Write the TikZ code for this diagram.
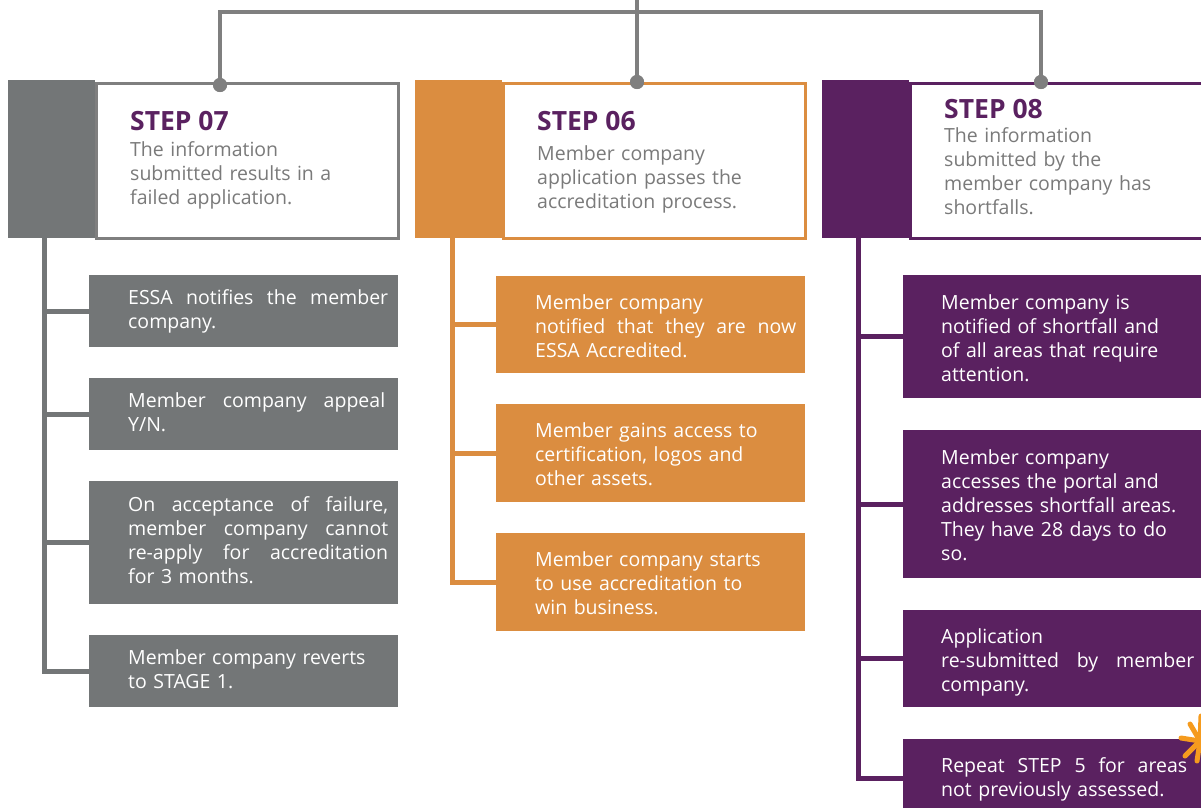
\documentclass[tikz,border=0pt]{standalone}
\usepackage{fontspec}
\setmainfont{Open Sans}
\newfontfamily\plexfam{Open Sans}
\newcommand\bodyfont{\plexfam\fontsize{19.5}{24}\selectfont}
\newcommand\ttlfont{\plexfam\bfseries\fontsize{26.5}{30}\selectfont}
\newcommand\jl[2][260pt]{\leavevmode\hbox to #1{#2}}
\definecolor{cgray}{HTML}{737677}
\definecolor{cline}{HTML}{7F7F7F}
\definecolor{corange}{HTML}{DB8D40}
\definecolor{cpurple}{HTML}{5A2160}
\definecolor{ctext}{HTML}{7A7A7A}
\definecolor{cstar}{HTML}{F59B1E}
\begin{document}
\begin{tikzpicture}[x=1pt,y=-1pt,
  bus/.style={draw=cline, line width=4pt},
  dot/.style={circle, fill=cline, inner sep=0pt, minimum size=14pt},
  hframe/.style={draw, line width=3pt, fill=white, inner sep=0pt, anchor=north west, minimum height=155pt},
  strip/.style={inner sep=0pt, anchor=north west, minimum width=87pt, minimum height=158pt},
  sbox/.style={inner sep=0pt, anchor=north west, minimum width=309pt},
  ttl/.style={font=\ttlfont, text=cpurple, anchor=base west, inner sep=0pt},
  htxt/.style={font=\bodyfont, text=ctext, anchor=base west, inner sep=0pt, text width=280pt, align=left},
  btxt/.style={font=\bodyfont, text=white, anchor=west, inner sep=0pt, text width=262pt, align=left},
  btxtlow/.style={btxt, yshift=-3.5pt},
  colline/.style={line width=5pt},
  starline/.style={draw=cstar, line width=5pt, line cap=round}]
\useasboundingbox (0,0) rectangle (1201,807);

% ---------- header boxes ----------
\node[hframe, draw=cline, minimum width=302pt] (h7) at (95,82) {};
\node[strip, fill=cgray] (s7) at (8,80) {};
\node[hframe, draw=corange, minimum width=302pt] (h6) at (502,82) {};
\node[strip, fill=corange] (s6) at (415,80) {};
\node[hframe, draw=cpurple, minimum width=330pt] (h8) at (909,82) {};
\node[strip, fill=cpurple] (s8) at (822,80) {};

\node[ttl] (t7) at (130,130.7) {STEP 07};
\node[htxt] (b7) at (130,156.7) {The information\\submitted results in a\\failed application.};
\node[ttl] (t6) at (537,130.7) {STEP 06};
\node[htxt] (b6) at (537,160.7) {Member company\\application passes the\\accreditation process.};
\node[ttl] (t8) at (944,118) {STEP 08};
\node[htxt] (b8) at (944,142.7) {The information\\submitted by the\\member company has\\shortfalls.};

% ---------- top bus ----------
\node[dot] (d7) at (220,85) {};
\node[dot] (d6) at (637,82) {};
\node[dot] (d8) at (1041,82) {};
\coordinate (bl) at (220,11.5);
\coordinate (top) at (637,-5);
\draw[bus] (d7.center) -- (bl) -| (d8.center);
\draw[bus] (top) -- (d6.center);
\node[dot] at (d7) {};
\node[dot] at (d6) {};
\node[dot] at (d8) {};

% ---------- column STEP 07 ----------
\node[sbox, fill=cgray, minimum height=72pt] (g1) at (89,275) {};
\node[sbox, fill=cgray, minimum height=72pt] (g2) at (89,378) {};
\node[sbox, fill=cgray, minimum height=123pt] (g3) at (89,481) {};
\node[sbox, fill=cgray, minimum height=72pt] (g4) at (89,635) {};
\coordinate (c7) at (44,238);
\draw[colline, draw=cgray] (c7) |- (g4.west);
\foreach \b in {g1,g2,g3} \draw[colline, draw=cgray] (c7 |- \b.west) -- (\b.west);
\node[btxt] (g1t) at ([xshift=39pt]g1.west) {\strut\jl{ESSA\hfill notifies\hfill the\hfill member}\\company.\strut};
\node[btxt] (g2t) at ([xshift=39pt]g2.west) {\strut\jl[257pt]{Member\hfill company\hfill appeal}\\Y/N.\strut};
\node[btxt] (g3t) at ([xshift=39pt]g3.west) {\strut\jl{On\hfill acceptance\hfill of\hfill failure,}\\\jl{member\hfill company\hfill cannot}\\\jl{re-apply\hfill for\hfill accreditation}\\for 3 months.\strut};
\node[btxt] (g4t) at ([xshift=39pt]g4.west) {\strut Member company reverts\\to STAGE 1.\strut};

% ---------- column STEP 06 ----------
\node[sbox, fill=corange, minimum height=97pt] (o1) at (496,276) {};
\node[sbox, fill=corange, minimum height=98pt] (o2) at (496,404) {};
\node[sbox, fill=corange, minimum height=98pt] (o3) at (496,533) {};
\coordinate (c6) at (452,238);
\draw[colline, draw=corange] (c6) |- (o3.west);
\foreach \b in {o1,o2} \draw[colline, draw=corange] (c6 |- \b.west) -- (\b.west);
\node[btxtlow] (o1t) at ([xshift=39pt]o1.west) {\strut Member company\\\jl[261pt]{notified\hfill that\hfill they\hfill are\hfill now}\\ESSA Accredited.\strut};
\node[btxtlow] (o2t) at ([xshift=39pt]o2.west) {\strut Member gains access to\\certification, logos and\\other assets.\strut};
\node[btxtlow] (o3t) at ([xshift=39pt]o3.west) {\strut Member company starts\\to use accreditation to\\win business.\strut};

% ---------- column STEP 08 ----------
\node[sbox, fill=cpurple, minimum height=123pt] (p1) at (903,275) {};
\node[sbox, fill=cpurple, minimum height=148pt] (p2) at (903,430) {};
\node[sbox, fill=cpurple, minimum height=97pt] (p3) at (903,610) {};
\node[sbox, fill=cpurple, minimum height=78pt] (p4) at (903,739) {};
\coordinate (c8) at (858,238);
\draw[colline, draw=cpurple] (c8) |- (p4.west);
\foreach \b in {p1,p2,p3} \draw[colline, draw=cpurple] (c8 |- \b.west) -- (\b.west);
\node[btxtlow] (p1t) at ([xshift=38pt]p1.west) {\strut Member company is\\notified of shortfall and\\of all areas that require\\attention.\strut};
\node[btxtlow] (p2t) at ([xshift=38pt]p2.west) {\strut Member company\\accesses the portal and\\addresses shortfall areas.\\They have 28 days to do\\so.\strut};
\node[btxtlow] (p3t) at ([xshift=38pt]p3.west) {\strut Application\\\jl[253pt]{re-submitted\hfill by\hfill member}\\company.\strut};
\node[btxt] (p4t) at ([xshift=38pt,yshift=-1.5pt]p4.west) {\strut\jl[246pt]{Repeat\hfill STEP\hfill 5\hfill for\hfill areas}\\not previously assessed.\strut};

% ---------- orange mark ----------
\coordinate (sc) at (1200,741);
\draw[starline] (sc) -- (1181,738);
\draw[starline] (sc) -- (1190,724);
\draw[starline] (sc) -- (1201,716);
\draw[starline] (sc) -- (1197,761);
\draw[starline] (sc) -- (1185,756);
\end{tikzpicture}
\end{document}
